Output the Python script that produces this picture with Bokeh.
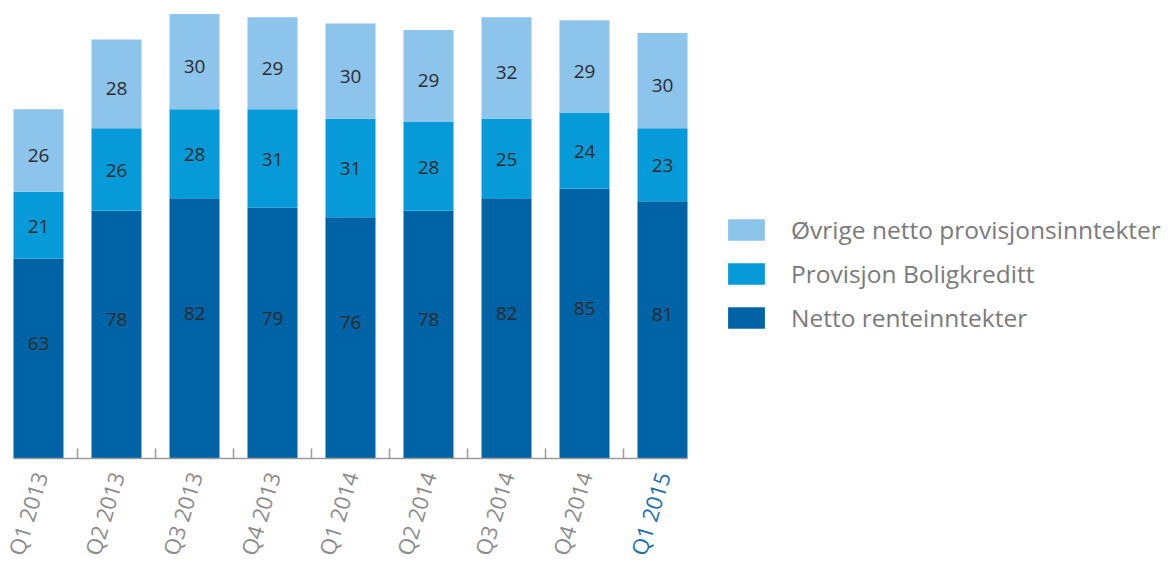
import math
from bokeh.plotting import figure
from bokeh.models import (ColumnDataSource, FixedTicker, Legend, LegendItem,
                          Range1d, LinearAxis)
from bokeh.core.properties import value
from bokeh.embed import file_html
from bokeh.resources import INLINE

# ---------------- data ----------------
quarters = ["Q1 2013", "Q2 2013", "Q3 2013", "Q4 2013", "Q1 2014",
            "Q2 2014", "Q3 2014", "Q4 2014", "Q1 2015"]
netto = [63, 78, 82, 79, 76, 78, 82, 85, 81]
provisjon = [21, 26, 28, 31, 31, 28, 25, 24, 23]
ovrige = [26, 28, 30, 29, 30, 29, 32, 29, 30]
series_names = ["Netto renteinntekter", "Provisjon Boligkreditt",
                "Øvrige netto provisjonsinntekter"]
colors = ["#0063a6", "#069bd8", "#8dc4ec"]

FONT = "Open Sans"
W, H = 1168, 564
px_per_unit = 3.175
base_canvas = 458
x0 = 38
cat_w = 78

x_start = -x0 / cat_w
x_end = x_start + W / cat_w
y_end = base_canvas / px_per_unit
y_start = -(H - base_canvas) / px_per_unit

n = len(quarters)
xs = list(range(n))
keys = ["netto", "provisjon", "ovrige"]
src = ColumnDataSource(dict(x=xs, netto=netto, provisjon=provisjon, ovrige=ovrige))

p = figure(width=W, height=H, x_range=Range1d(x_start, x_end),
           y_range=Range1d(y_start, y_end), output_backend="svg",
           toolbar_location=None, min_border=0, x_axis_type=None,
           y_axis_type=None)
p.outline_line_color = None
p.background_fill_color = "white"
p.border_fill_color = "white"

bar_w = 50 / cat_w
renderers = p.vbar_stack(keys, x="x", width=bar_w, color=colors, source=src,
                         line_color=None)

# value labels
lx, ly, lt, lyo = [], [], [], []
offsets = [-15, 1, 5]
for i in range(n):
    bottom = 0
    for k, vals in enumerate([netto, provisjon, ovrige]):
        v = vals[i]
        lx.append(xs[i])
        ly.append(bottom + v / 2)
        lt.append(str(v))
        lyo.append(offsets[k])
        bottom += v
lab_src = ColumnDataSource(dict(x=lx, y=ly, t=lt, yo=lyo))
p.text(x="x", y="y", text="t", y_offset="yo", source=lab_src,
       text_align="center", text_baseline="middle", text_color="#2b2b2b",
       text_font=value(FONT), text_font_size="19px")

# x axis at y=0
ax = LinearAxis(fixed_location=0,
                ticker=FixedTicker(ticks=xs, minor_ticks=[i + 0.5 for i in xs[:-1]]),
                bounds=(-bar_w / 2, n - 1 + bar_w / 2))
ax.axis_line_color = "#9a9a9a"
ax.axis_line_width = 1.5
ax.major_tick_line_color = None
ax.major_tick_in = 0
ax.major_tick_out = 0
ax.minor_tick_line_color = "#9a9a9a"
ax.minor_tick_line_width = 1.5
ax.minor_tick_in = 10
ax.minor_tick_out = 0
ax.major_label_overrides = {i: (quarters[i] if i < n - 1 else "") for i in xs}
ax.major_label_orientation = math.radians(73)
ax.major_label_text_color = "#8c8c8c"
ax.major_label_text_font = FONT
ax.major_label_text_font_size = "22px"
ax.major_label_standoff = 14
p.add_layout(ax, "below")

ax2 = LinearAxis(fixed_location=0, ticker=FixedTicker(ticks=[n - 1], minor_ticks=[]))
ax2.axis_line_color = None
ax2.major_tick_line_color = None
ax2.minor_tick_line_color = None
ax2.major_tick_in = 0
ax2.major_tick_out = 0
ax2.major_label_overrides = {n - 1: quarters[n - 1]}
ax2.major_label_orientation = math.radians(73)
ax2.major_label_text_color = "#1d6fae"
ax2.major_label_text_font = FONT
ax2.major_label_text_font_size = "22px"
ax2.major_label_standoff = 14
p.add_layout(ax2, "below")

items = [LegendItem(label=series_names[k], renderers=[renderers[k]]) for k in (2, 1, 0)]
legend = Legend(items=items, location=(723, 230), glyph_width=46, glyph_height=27,
                label_text_font=FONT, label_text_font_size="24.5px",
                label_text_color="#7a7a7a", spacing=11, padding=0, margin=0,
                label_standoff=22, border_line_color=None,
                background_fill_alpha=0)
p.add_layout(legend)

open("out.html", "w").write(file_html(p, INLINE))
